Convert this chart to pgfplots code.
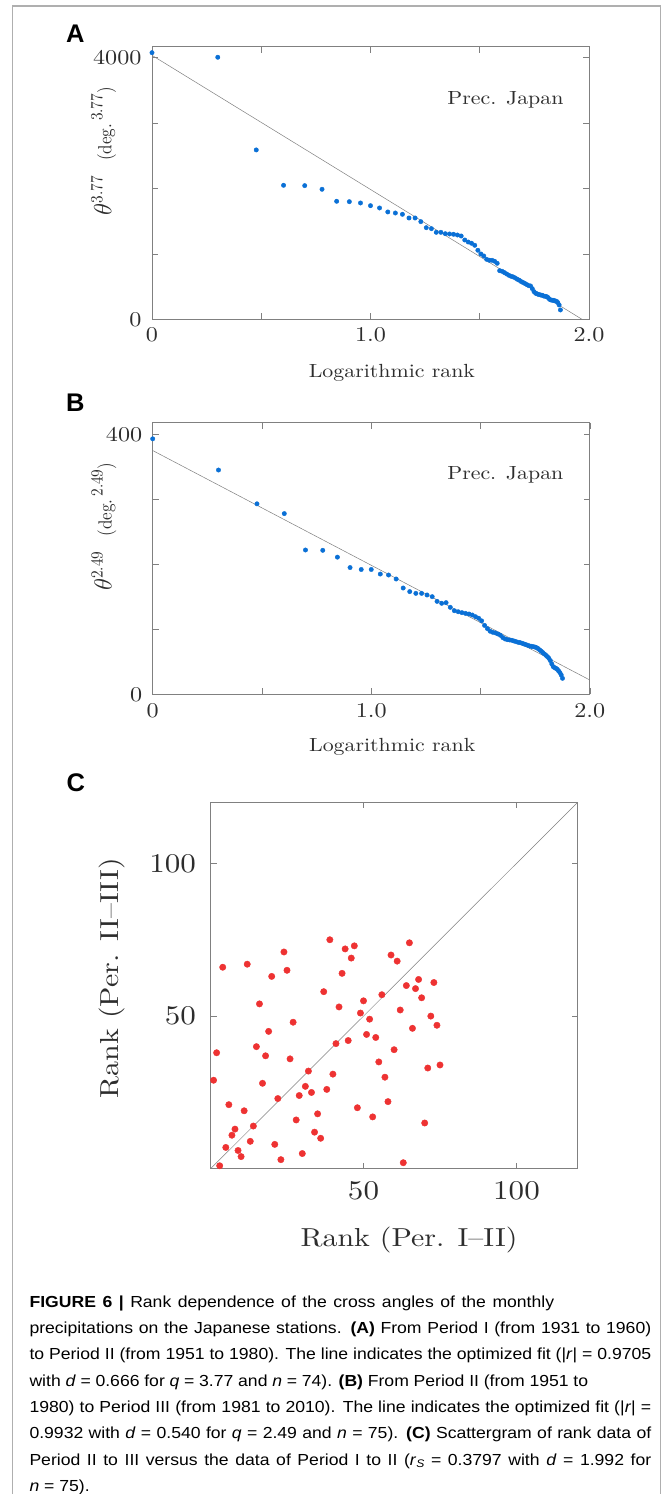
\documentclass[border=0pt]{standalone}
\usepackage{pgfplots}
\pgfplotsset{compat=1.18}
\usepackage{fontspec}
\newfontfamily\axfont{lmroman10-regular.otf}[FakeStretch=1.15]
\newfontfamily\ylfont{lmroman10-regular.otf}[FakeStretch=0.9]
\newfontfamily\capfont{Liberation Sans}[FakeStretch=1.1]
\newfontfamily\panfont{Liberation Sans}
\definecolor{dotblue}{RGB}{10,112,214}
\definecolor{dotred}{RGB}{238,50,50}
\definecolor{axgray}{RGB}{128,128,128}
\definecolor{txtgray}{RGB}{45,45,45}
\definecolor{framegray}{RGB}{175,175,175}

\newcommand{\supx}[1]{\raisebox{9pt}{\fontsize{17}{17}\selectfont #1}}

\pgfplotstableread{
x y
0.0000 4071
0.3010 4001
0.4771 2586
0.6021 2046
0.6990 2041
0.7782 1985
0.8451 1802
0.9031 1796
0.9542 1776
1.0000 1735
1.0414 1700
1.0792 1639
1.1139 1623
1.1461 1603
1.1761 1547
1.2041 1547
1.2304 1491
1.2553 1399
1.2788 1384
1.3010 1328
1.3222 1328
1.3424 1307
1.3617 1303
1.3802 1298
1.3979 1287
1.4150 1272
1.4314 1211
1.4472 1180
1.4624 1161
1.4771 1130
1.4914 1054
1.5051 998
1.5185 967
1.5315 916
1.5441 901
1.5563 901
1.5682 886
1.5798 855
1.5911 743
1.6021 733
1.6128 713
1.6232 692
1.6335 672
1.6435 657
1.6532 647
1.6628 631
1.6721 611
1.6812 596
1.6902 575
1.6990 560
1.7076 545
1.7160 529
1.7243 514
1.7324 509
1.7404 468
1.7482 423
1.7559 397
1.7634 387
1.7709 377
1.7782 372
1.7853 367
1.7924 356
1.7993 351
1.8062 346
1.8129 331
1.8195 305
1.8261 295
1.8325 290
1.8388 290
1.8451 280
1.8513 275
1.8573 255
1.8633 219
1.8692 143
}\dataA

\pgfplotstableread{
x y
0.0000 393
0.3010 345
0.4771 293
0.6021 278
0.6990 222
0.7782 221.5
0.8451 211
0.9031 195
0.9542 192
1.0000 192
1.0414 185
1.0792 183.5
1.1139 177.4
1.1461 163.5
1.1761 158
1.2041 155.3
1.2304 155.3
1.2553 152.8
1.2788 150.2
1.3010 143
1.3222 140
1.3424 141
1.3617 133.8
1.3802 128.6
1.3979 127
1.4150 125.6
1.4314 124.5
1.4472 123.5
1.4624 122
1.4771 119.4
1.4914 117
1.5051 113
1.5185 106
1.5315 101
1.5441 97
1.5563 95.4
1.5682 94.4
1.5798 92.8
1.5911 90.8
1.6021 87.2
1.6128 85.1
1.6232 84.1
1.6335 83.6
1.6435 83.1
1.6532 82
1.6628 81
1.6721 80
1.6812 79.5
1.6902 78.5
1.6990 77.4
1.7076 76.4
1.7160 75.4
1.7243 74.4
1.7324 73.8
1.7404 73.3
1.7482 72.8
1.7559 71.8
1.7634 70.3
1.7709 68.2
1.7782 66.2
1.7853 64.1
1.7924 62
1.7993 60
1.8062 57.9
1.8129 55.4
1.8195 51.8
1.8261 46.7
1.8325 42.6
1.8388 41
1.8451 40
1.8513 38.5
1.8573 35.9
1.8633 33.3
1.8692 29.7
1.8751 24.6
}\dataB

\pgfplotstableread{
x y
1 29
2 38
3 1
4 66
5 7
6 21
7 11
8 13
9 6
10 4
11 19
12 67
13 9
14 14
15 40
16 54
17 28
18 37
19 45
20 63
21 8
22 23
23 3
24 71
25 65
26 36
27 48
28 16
29 24
30 5
31 27
32 32
33 25
34 12
35 18
36 10
37 58
38 26
39 75
40 31
41 41
42 53
43 64
44 72
45 42
46 69
47 73
48 20
49 51
50 55
51 44
52 49
53 17
54 43
55 35
56 57
57 30
58 22
59 70
60 39
61 68
62 52
63 2
64 60
65 74
66 46
67 59
68 62
69 56
70 15
71 33
72 50
73 61
74 47
75 34
}\dataC

\pgfplotsset{
  figstyle/.style={
    scale only axis,
    axis line style={axgray, line width=0.8pt},
    tick style={axgray, line width=0.6pt},
    major tick length=6pt,
    tick align=inside,
    /pgf/number format/assume math mode=true,
    every tick label/.append style={txtgray},
  },
}

\begin{document}
\begin{tikzpicture}
\path[use as bounding box, fill=white] (0,0) rectangle (663pt,-1494pt);
\draw[framegray, line width=1.5pt] (12.7pt,-1510pt) -- (12.7pt,-6pt) -- (660.5pt,-6pt) -- (660.5pt,-1510pt);

% Panel letters
\node[anchor=base west, inner sep=0pt, font=\panfont\bfseries\fontsize{25.5}{25.5}\selectfont] at (66pt,-42.7pt) {A};
\node[anchor=base west, inner sep=0pt, font=\panfont\bfseries\fontsize{25.5}{25.5}\selectfont] at (66pt,-411.7pt) {B};
\node[anchor=base west, inner sep=0pt, font=\panfont\bfseries\fontsize{25.5}{25.5}\selectfont] at (66.5pt,-791pt) {C};

% ---------------- Panel A
\begin{axis}[figstyle,
  at={(152pt,-319.3pt)}, anchor=south west,
  width=437pt, height=272.6pt,
  xmin=0, xmax=2, ymin=0, ymax=4162,
  xtick={0,0.5,1,1.5,2}, xticklabels={0,,1.0,,2.0},
  ytick={0,1000,2000,3000,4000}, yticklabels={0,,,,4000},
  xticklabel style={font=\axfont\fontsize{21}{21}\selectfont, yshift=-5pt},
  yticklabel style={font=\axfont\fontsize{21}{21}\selectfont, xshift=-7pt},
  xlabel={Logarithmic rank},
  xlabel style={font=\axfont\fontsize{19}{19}\selectfont, txtgray, at={(axis description cs:0.549,-0.197)}, anchor=center},
  ylabel={{\fontsize{23}{23}\selectfont$\theta$}\supx{3.77}\hspace{15pt}(deg.\supx{\,3.77})},
  ylabel style={font=\ylfont\fontsize{19}{19}\selectfont, txtgray, at={(axis description cs:-0.111,0.617)}, anchor=center},
]
\addplot[axgray, line width=0.5pt, no marks] coordinates {(0,4030) (1.968,0)};
\addplot[only marks, mark=*, mark size=2.2pt, color=dotblue, mark options={draw=none, fill=dotblue}] table[x=x, y=y] {\dataA};
\node[anchor=east, font=\axfont\fontsize{19}{19}\selectfont, txtgray, inner sep=0pt] at (axis description cs:0.942,0.8045) {Prec. Japan};
\end{axis}

% ---------------- Panel B
\begin{axis}[figstyle,
  at={(152.7pt,-694.3pt)}, anchor=south west,
  width=437.1pt, height=271.6pt,
  xmin=0, xmax=2, ymin=0, ymax=417.8,
  xtick={0,0.5,1,1.5,2}, xticklabels={0,,1.0,,2.0},
  ytick={0,100,200,300,400}, yticklabels={0,,,,400},
  xticklabel style={font=\axfont\fontsize{21}{21}\selectfont, yshift=-6pt},
  yticklabel style={font=\axfont\fontsize{21}{21}\selectfont, xshift=-7pt},
  xlabel={Logarithmic rank},
  xlabel style={font=\axfont\fontsize{19}{19}\selectfont, txtgray, at={(axis description cs:0.548,-0.194)}, anchor=center},
  ylabel={{\fontsize{23}{23}\selectfont$\theta$}\supx{2.49}\hspace{15pt}(deg.\supx{\,2.49})},
  ylabel style={font=\ylfont\fontsize{19}{19}\selectfont, txtgray, at={(axis description cs:-0.112,0.617)}, anchor=center},
]
\addplot[axgray, line width=0.5pt, no marks] coordinates {(0,375) (2,22)};
\addplot[only marks, mark=*, mark size=2.2pt, color=dotblue, mark options={draw=none, fill=dotblue}] table[x=x, y=y] {\dataB};
\node[anchor=east, font=\axfont\fontsize{19}{19}\selectfont, txtgray, inner sep=0pt] at (axis description cs:0.940,0.8074) {Prec. Japan};
\end{axis}

% ---------------- Panel C
\begin{axis}[figstyle,
  at={(210.5pt,-1168.8pt)}, anchor=south west,
  width=367.2pt, height=366.5pt,
  xmin=0, xmax=120, ymin=0, ymax=120,
  xtick={50,100}, ytick={50,100},
  xticklabels={50,100}, yticklabels={50,100},
  xticklabel style={font=\axfont\fontsize{27}{27}\selectfont, yshift=-9pt},
  yticklabel style={font=\axfont\fontsize{27}{27}\selectfont, xshift=-11pt},
  xlabel={Rank (Per. I–II)},
  xlabel style={font=\axfont\fontsize{26}{26}\selectfont, txtgray, at={(axis description cs:0.5406,-0.1943)}, anchor=center},
  ylabel={Rank (Per. II–III)},
  ylabel style={font=\axfont\fontsize{26}{26}\selectfont, txtgray, at={(axis description cs:-0.268,0.5206)}, anchor=center},
]
\addplot[axgray, line width=0.5pt, no marks] coordinates {(0,0) (120,120)};
\addplot[only marks, mark=*, mark size=3.2pt, color=dotred, mark options={draw=none, fill=dotred}] table[x=x, y=y] {\dataC};
\end{axis}

% ---------------- Caption
\begin{scope}[every node/.style={anchor=base west, inner sep=0pt, font=\capfont\fontsize{16}{16}\selectfont, text=black}]
\node at (29.3pt,-1307.3pt) {\makebox[524.7pt][s]{\textbf{FIGURE 6 |} Rank dependence of the cross angles of the monthly}};
\node at (29.3pt,-1333.6pt) {\makebox[621.7pt][s]{precipitations on the Japanese stations. \textbf{(A)} From Period I (from 1931 to 1960)}};
\node at (29.3pt,-1359.9pt) {\makebox[621.7pt][s]{to Period II (from 1951 to 1980). The line indicates the optimized fit (|\textit{r}| = 0.9705}};
\node at (29.3pt,-1386.2pt) {\makebox[558.7pt][s]{with \textit{d} = 0.666 for \textit{q} = 3.77 and \textit{n} = 74). \textbf{(B)} From Period II (from 1951 to}};
\node at (29.3pt,-1412.5pt) {\makebox[621.7pt][s]{1980) to Period III (from 1981 to 2010). The line indicates the optimized fit (|\textit{r}| =}};
\node at (29.3pt,-1438.8pt) {\makebox[621.7pt][s]{0.9932 with \textit{d} = 0.540 for \textit{q} = 2.49 and \textit{n} = 75). \textbf{(C)} Scattergram of rank data of}};
\node at (29.3pt,-1465.1pt) {\makebox[621.7pt][s]{Period II to III versus the data of Period I to II (\textit{r}\raisebox{-2.5pt}{\fontsize{11}{11}\selectfont\textit{S}} = 0.3797 with \textit{d} = 1.992 for}};
\node at (29.3pt,-1491.4pt) {\textit{n} = 75).};
\end{scope}
\end{tikzpicture}
\end{document}
